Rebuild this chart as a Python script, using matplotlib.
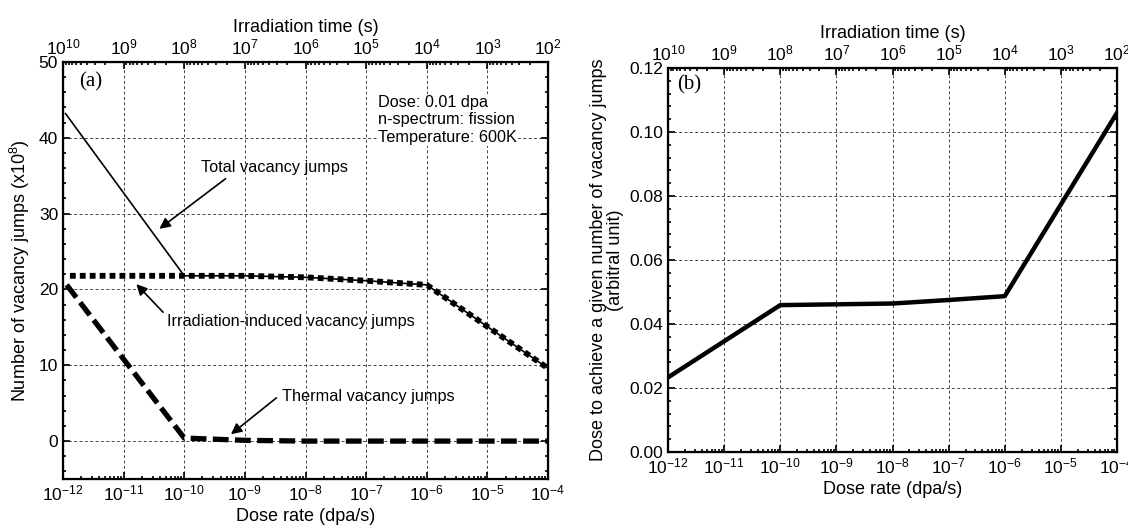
import numpy as np
import matplotlib
matplotlib.use("Agg")
import matplotlib.pyplot as plt
from matplotlib.ticker import LogLocator, NullFormatter, AutoMinorLocator, FormatStrFormatter

plt.rcParams['font.family'] = ['Liberation Sans', 'DejaVu Sans']
plt.rcParams['mathtext.fontset'] = 'custom'
plt.rcParams['mathtext.rm'] = 'Liberation Sans'
plt.rcParams['mathtext.it'] = 'Liberation Sans:italic'
plt.rcParams['axes.unicode_minus'] = False

# ---------------- data ----------------
DOSE = 0.01  # dpa

# panel (a)
total_rate = [1.1e-12, 1e-10, 1e-9, 1e-8, 1e-7, 1e-6, 1e-5, 1e-4]
total_jumps = [43.2, 21.8, 21.8, 21.6, 21.15, 20.6, 15.1, 9.6]

irr_rate = [1.3e-12, 1e-10, 1e-9, 1e-8, 1e-7, 1e-6, 1e-5, 1e-4]
irr_jumps = [21.8, 21.8, 21.8, 21.6, 21.15, 20.6, 15.1, 9.6]

thermal_rate = [1.15e-12, 1e-11, 1e-10, 1e-9, 1e-8, 1e-7, 1e-6, 1e-5, 1e-4]
thermal_jumps = [20.6, 10.8, 0.4, 0.1, 0.0, 0.0, 0.0, 0.0, 0.0]

# panel (b)
b_rate = [1e-12, 1e-10, 1e-8, 1e-7, 1e-6, 1e-4]
b_dose = [0.0233, 0.0459, 0.0464, 0.0475, 0.0487, 0.106]

rate_ticks = [10.0 ** e for e in range(-12, -3)]
time_ticks = [10.0 ** e for e in range(10, 1, -1)]

# ---------------- figure ----------------
fig = plt.figure(figsize=(11.28, 5.28), dpi=100)
W, H = 1128, 528

def axes_px(x0, x1, y0, y1):
    return fig.add_axes([x0 / W, 1 - y1 / H, (x1 - x0) / W, (y1 - y0) / H])

axa = axes_px(63, 548, 62, 479)
axb = axes_px(668, 1117, 68, 452)

grid_kw = dict(color='#444444', linestyle=(0, (3, 2.5)), linewidth=0.7)
TICK_FS = 12.5
LABEL_FS = 13

def style_axes(ax, yminor):
    ax.set_xscale('log')
    ax.set_xlim(1e-12, 1e-4)
    ax.set_xticks(rate_ticks)
    ax.xaxis.set_minor_locator(LogLocator(base=10, subs=np.arange(2, 10), numticks=100))
    ax.xaxis.set_minor_formatter(NullFormatter())
    ax.yaxis.set_minor_locator(AutoMinorLocator(yminor))
    ax.tick_params(which='both', direction='in', top=False, right=True, width=1.2,
                   labelsize=TICK_FS)
    ax.tick_params(which='major', length=5)
    ax.tick_params(which='minor', length=2.5)
    for s in ax.spines.values():
        s.set_linewidth(1.6)
    ax.grid(True, which='major', **grid_kw)
    ax.set_axisbelow(True)
    ax.set_xlabel('Dose rate (dpa/s)', fontsize=LABEL_FS, labelpad=3)

    top = ax.twiny()
    top.set_xscale('log')
    top.set_xlim(DOSE / 1e-12, DOSE / 1e-4)
    top.set_xticks(time_ticks)
    top.xaxis.set_minor_locator(LogLocator(base=10, subs=np.arange(2, 10), numticks=100))
    top.xaxis.set_minor_formatter(NullFormatter())
    top.tick_params(which='both', direction='in', width=1.2, labelsize=TICK_FS)
    top.tick_params(which='major', length=5)
    top.tick_params(which='minor', length=2.5)
    top.set_xlabel('Irradiation time (s)', fontsize=LABEL_FS, labelpad=4)
    return top

# ---- panel (a)
style_axes(axa, 5)
axa.set_ylim(-5, 50)
axa.set_yticks([0, 10, 20, 30, 40, 50])
axa.set_ylabel('Number of vacancy jumps (x10$^{8}$)', fontsize=LABEL_FS, labelpad=5)

axa.plot(irr_rate, irr_jumps, color='black', linewidth=4.2,
         linestyle=(0, (1, 0.7)), dash_capstyle='butt', zorder=3)
axa.plot(total_rate, total_jumps, color='black', linewidth=1.2, zorder=4)
axa.plot(thermal_rate, thermal_jumps, color='black', linewidth=3.8,
         linestyle=(0, (3, 1.2)), dash_capstyle='butt', zorder=3)

axa.text(10 ** -11.55, 47.4, '(a)', family=['Liberation Serif'], fontsize=15,
         va='center', ha='center')
axa.text(10 ** -6.8, 45.7, 'Dose: 0.01 dpa\nn-spectrum: fission\nTemperature: 600K',
         fontsize=11.7, va='top', ha='left', linespacing=1.22,
         bbox=dict(facecolor='white', edgecolor='none', pad=0.5), zorder=5)

arrow_kw = dict(arrowstyle='-|>', color='black', lw=1.2, mutation_scale=16,
                shrinkA=0, shrinkB=0)
ANN_FS = 11.7
axa.text(10 ** -8.51, 36.1, 'Total vacancy jumps', fontsize=ANN_FS, ha='center', va='center')
axa.annotate('', xy=(10 ** -10.41, 28.0), xytext=(10 ** -9.32, 34.6),
             arrowprops=arrow_kw)
axa.text(10 ** -10.28, 15.8, 'Irradiation-induced vacancy jumps', fontsize=ANN_FS,
         ha='left', va='center')
axa.annotate('', xy=(10 ** -10.79, 20.7), xytext=(10 ** -10.35, 17.0),
             arrowprops=arrow_kw)
axa.text(10 ** -8.39, 5.9, 'Thermal vacancy jumps', fontsize=ANN_FS, ha='left', va='center')
axa.annotate('', xy=(10 ** -9.23, 0.9), xytext=(10 ** -8.48, 5.7),
             arrowprops=arrow_kw)

# ---- panel (b)
style_axes(axb, 5)
axb.set_ylim(0, 0.12)
axb.set_yticks([0, 0.02, 0.04, 0.06, 0.08, 0.10, 0.12])
axb.yaxis.set_major_formatter(FormatStrFormatter('%.2f'))
axb.set_ylabel('Dose to achieve a given number of vacancy jumps\n(arbitral unit)',
               fontsize=LABEL_FS, labelpad=4, linespacing=0.95)
axb.plot(b_rate, b_dose, color='black', linewidth=3.2, zorder=3)
axb.text(10 ** -11.62, 0.1147, '(b)', family=['Liberation Serif'], fontsize=15,
         va='center', ha='center')

fig.savefig('out.png', dpi=100)
